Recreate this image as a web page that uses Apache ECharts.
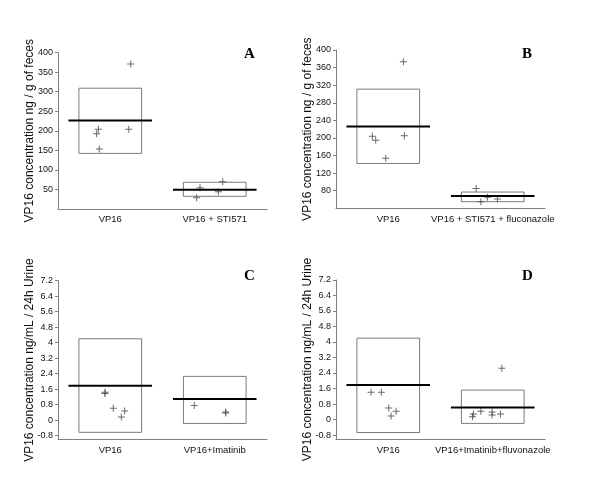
<!DOCTYPE html>
<html>
<head>
<meta charset="utf-8">
<script src="https://cdn.jsdelivr.net/npm/echarts@6/dist/echarts.min.js"></script>
<style>html,body{margin:0;padding:0;background:#fff;}#c{width:600px;height:493px;}</style>
</head>
<body>
<div id="c"></div>
<script>
// ---------- data ----------
const catsA = ['VP16', 'VP16 + STI571'];
const catsB = ['VP16', 'VP16 + STI571 + fluconazole'];
const catsC = ['VP16', 'VP16+Imatinib'];
const catsD = ['VP16', 'VP16+Imatinib+fluvonazole'];
const groupX = [0.5, 1.5];

const boxLowA = [142, 32];
const boxHighA = [309, 68];
const meanA = [226, 49];
const pointsA = [[0.37,192],[0.386,204],[0.395,153],[0.677,204],[0.696,371],
                 [1.327,28],[1.359,54],[1.534,44],[1.576,69]];

const boxLowB = [142, 55];
const boxHighB = [311, 77];
const meanB = [226, 68];
const pointsB = [[0.348,204],[0.38,195],[0.476,154],[0.654,205],[0.645,373],
                 [1.341,85],[1.386,55],[1.449,65],[1.545,61]];

const boxLowC = [-0.63, -0.17];
const boxHighC = [4.2, 2.26];
const meanC = [1.78, 1.09];
const pointsC = [[0.45,1.44],[0.45,1.37],[0.529,0.62],[0.606,0.16],[0.638,0.47],
                 [1.304,0.76],[1.605,0.42],[1.605,0.37]];

const boxLowD = [-0.67, -0.2];
const boxHighD = [4.2, 1.52];
const meanD = [1.78, 0.62];
const pointsD = [[0.335,1.41],[0.434,1.41],[0.505,0.6],[0.527,0.18],[0.575,0.43],
                 [1.306,0.14],[1.315,0.28],[1.386,0.43],[1.494,0.39],[1.494,0.23],
                 [1.574,0.28],[1.587,2.64]];

const ticksA = [50, 100, 150, 200, 250, 300, 350, 400];
const ticksB = [80, 120, 160, 200, 240, 280, 320, 360, 400];
const ticksCD = [-0.8, 0, 0.8, 1.6, 2.4, 3.2, 4, 4.8, 5.6, 6.4, 7.2];

const nameFeces = 'VP16 concentration ng / g of feces';
const nameUrine = 'VP16 concentration ng/mL / 24h Urine';
const letters = ['A', 'B', 'C', 'D'];

// ---------- build ----------
const panels = [
  {cats: catsA, lo: boxLowA, hi: boxHighA, mean: meanA, pts: pointsA, ticks: ticksA, min: 0, max: 400, name: nameFeces,
   grid: {left: 58, top: 52.7, width: 209, height: 156.1}, letter: {left: 244, top: 47}},
  {cats: catsB, lo: boxLowB, hi: boxHighB, mean: meanB, pts: pointsB, ticks: ticksB, min: 40, max: 400, name: nameFeces,
   grid: {left: 336, top: 50, width: 209, height: 158.3}, letter: {left: 522, top: 47}},
  {cats: catsC, lo: boxLowC, hi: boxHighC, mean: meanC, pts: pointsC, ticks: ticksCD, min: -1, max: 7.2, name: nameUrine,
   grid: {left: 58, top: 280.7, width: 209, height: 158.8}, letter: {left: 244, top: 269}},
  {cats: catsD, lo: boxLowD, hi: boxHighD, mean: meanD, pts: pointsD, ticks: ticksCD, min: -1, max: 7.2, name: nameUrine,
   grid: {left: 336, top: 280, width: 209, height: 158.9}, letter: {left: 522, top: 269}}
];

const axisGray = '#808080';
const sans = '"Liberation Sans", Arial, Helvetica, sans-serif';

const grid = [], xAxis = [], yAxis = [], series = [], title = [];
panels.forEach((p, i) => {
  grid.push(Object.assign({containLabel: false}, p.grid));
  // category axis for labels
  xAxis.push({type: 'category', gridIndex: i, data: p.cats, boundaryGap: true,
    axisLine: {onZero: false, lineStyle: {color: axisGray, width: 1}},
    axisTick: {alignWithLabel: true, length: 4, lineStyle: {color: axisGray}},
    axisLabel: {margin: 6, interval: 0, fontFamily: sans, fontSize: 9.5, color: '#111'},
    splitLine: {show: false}});
  // hidden value axis for data placement
  xAxis.push({type: 'value', gridIndex: i, min: 0, max: 2, show: false, splitLine: {show: false}});
  yAxis.push({type: 'value', gridIndex: i, min: p.min, max: p.max,
    name: p.name, nameLocation: 'middle', nameGap: 22, nameRotate: 90, nameMoveOverlap: false,
    nameTextStyle: {fontFamily: sans, fontSize: 12, color: '#111'},
    axisLine: {show: true, onZero: false, lineStyle: {color: axisGray, width: 1}},
    axisTick: {show: true, length: 3, customValues: p.ticks, lineStyle: {color: axisGray}},
    axisLabel: {margin: 5, customValues: p.ticks, fontFamily: sans, fontSize: 9, color: '#111'},
    splitLine: {show: false}});
  const xIdx = i * 2 + 1;
  const boxData = groupX.map((x, k) => [x, p.lo[k], p.hi[k]]);
  const meanData = groupX.map((x, k) => [x, p.mean[k]]);
  series.push({type: 'custom', xAxisIndex: xIdx, yAxisIndex: i, data: boxData, silent: true, z: 2,
    renderItem: function (params, api) {
      const x = api.value(0);
      const a = api.coord([x - 0.3, api.value(2)]);
      const b = api.coord([x + 0.3, api.value(1)]);
      return {type: 'rect', shape: {x: a[0], y: a[1], width: b[0] - a[0], height: b[1] - a[1]},
        style: {fill: 'none', stroke: '#7a7a7a', lineWidth: 1}};
    }});
  series.push({type: 'custom', xAxisIndex: xIdx, yAxisIndex: i, data: meanData, silent: true, z: 4,
    renderItem: function (params, api) {
      const x = api.value(0);
      const a = api.coord([x - 0.4, api.value(1)]);
      const b = api.coord([x + 0.4, api.value(1)]);
      return {type: 'line', shape: {x1: a[0], y1: a[1], x2: b[0], y2: b[1]},
        style: {stroke: '#000', lineWidth: 2}};
    }});
  series.push({type: 'scatter', xAxisIndex: xIdx, yAxisIndex: i, data: p.pts, z: 3,
    symbol: 'path://M3,0H4V3H7V4H4V7H3V4H0V3H3Z', symbolSize: 7,
    itemStyle: {color: '#444'}, silent: true});
  title.push({text: letters[i], left: p.letter.left, top: p.letter.top, padding: 0,
    textStyle: {fontFamily: '"Liberation Serif", "Times New Roman", serif', fontWeight: 'bold', fontSize: 15, color: '#000'}});
});

const chart = echarts.init(document.getElementById('c'), null, {renderer: 'canvas'});
chart.setOption({animation: false, backgroundColor: '#fff', title, grid, xAxis, yAxis, series});
</script>
</body>
</html>
